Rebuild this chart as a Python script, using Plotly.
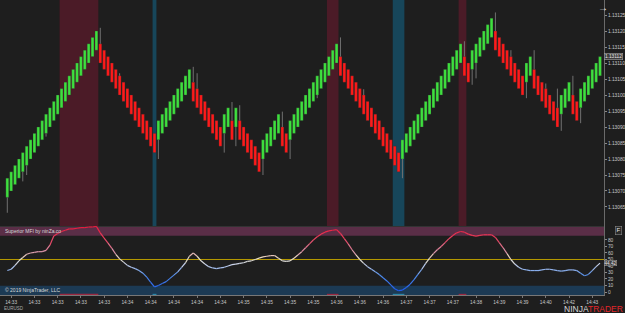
import plotly.graph_objects as go

# ---------------- data ----------------
close = [
    1.13074, 1.13076, 1.13078, 1.13080, 1.13082, 1.13084, 1.13086, 1.13088, 1.13090, 1.13092, 1.13094, 1.13096,
    1.13098, 1.13100, 1.13102, 1.13104, 1.13106, 1.13108, 1.13110, 1.13112, 1.13114, 1.13116, 1.13118, 1.13120,
    1.13110, 1.13108, 1.13106, 1.13104, 1.13102, 1.13100, 1.13098, 1.13096, 1.13094, 1.13092, 1.13090, 1.13088,
    1.13086, 1.13084, 1.13082,
    1.13092, 1.13094, 1.13096, 1.13098, 1.13100, 1.13102, 1.13104, 1.13106, 1.13108,
    1.13098, 1.13096, 1.13094, 1.13092, 1.13090, 1.13088, 1.13086, 1.13084,
    1.13094, 1.13096, 1.13086, 1.13096,
    1.13086, 1.13084, 1.13082, 1.13080, 1.13078, 1.13076,
    1.13086, 1.13088, 1.13090, 1.13092, 1.13094,
    1.13084, 1.13082,
    1.13092, 1.13094, 1.13096, 1.13098, 1.13100, 1.13102, 1.13104, 1.13106, 1.13108, 1.13110, 1.13112, 1.13114,
    1.13116,
    1.13106, 1.13104, 1.13102, 1.13100, 1.13098, 1.13096, 1.13094, 1.13092, 1.13090, 1.13088, 1.13086, 1.13084,
    1.13082, 1.13080, 1.13078, 1.13076,
    1.13086, 1.13088, 1.13090, 1.13092, 1.13094, 1.13096, 1.13098, 1.13100, 1.13102, 1.13104, 1.13106, 1.13108,
    1.13110, 1.13112, 1.13114, 1.13116,
    1.13106, 1.13104,
    1.13114, 1.13116, 1.13118, 1.13120, 1.13122, 1.13124,
    1.13114, 1.13112, 1.13110, 1.13108, 1.13106, 1.13104, 1.13102, 1.13100,
    1.13110, 1.13112,
    1.13102, 1.13100, 1.13098, 1.13096, 1.13094, 1.13092, 1.13090,
    1.13100, 1.13102, 1.13104,
    1.13094, 1.13092,
    1.13102, 1.13104, 1.13106, 1.13108, 1.13110, 1.13112,
]
open_ = [
    1.13068, 1.13070, 1.13072, 1.13074, 1.13076, 1.13078, 1.13080, 1.13082, 1.13084, 1.13086, 1.13088, 1.13090,
    1.13092, 1.13094, 1.13096, 1.13098, 1.13100, 1.13102, 1.13104, 1.13106, 1.13108, 1.13110, 1.13112, 1.13114,
    1.13116, 1.13114, 1.13112, 1.13110, 1.13108, 1.13106, 1.13104, 1.13102, 1.13100, 1.13098, 1.13096, 1.13094,
    1.13092, 1.13090, 1.13088,
    1.13086, 1.13088, 1.13090, 1.13092, 1.13094, 1.13096, 1.13098, 1.13100, 1.13102,
    1.13104, 1.13102, 1.13100, 1.13098, 1.13096, 1.13094, 1.13092, 1.13090,
    1.13088, 1.13090, 1.13092, 1.13090,
    1.13092, 1.13090, 1.13088, 1.13086, 1.13084, 1.13082,
    1.13080, 1.13082, 1.13084, 1.13086, 1.13088,
    1.13090, 1.13088,
    1.13086, 1.13088, 1.13090, 1.13092, 1.13094, 1.13096, 1.13098, 1.13100, 1.13102, 1.13104, 1.13106, 1.13108,
    1.13110,
    1.13112, 1.13110, 1.13108, 1.13106, 1.13104, 1.13102, 1.13100, 1.13098, 1.13096, 1.13094, 1.13092, 1.13090,
    1.13088, 1.13086, 1.13084, 1.13082,
    1.13080, 1.13082, 1.13084, 1.13086, 1.13088, 1.13090, 1.13092, 1.13094, 1.13096, 1.13098, 1.13100, 1.13102,
    1.13104, 1.13106, 1.13108, 1.13110,
    1.13112, 1.13110,
    1.13108, 1.13110, 1.13112, 1.13114, 1.13116, 1.13118,
    1.13120, 1.13118, 1.13116, 1.13114, 1.13112, 1.13110, 1.13108, 1.13106,
    1.13104, 1.13106,
    1.13108, 1.13106, 1.13104, 1.13102, 1.13100, 1.13098, 1.13096,
    1.13094, 1.13096, 1.13098,
    1.13100, 1.13098,
    1.13096, 1.13098, 1.13100, 1.13102, 1.13104, 1.13106,
]
# wick extremes (bar index, price the wick reaches)
wick_bar = [0, 4, 5, 10, 24, 29, 39, 48, 49, 56, 58, 59, 60, 66, 71, 73, 80, 86, 92, 102,
            118, 120, 121, 126, 130, 134, 136, 139, 142, 143, 146, 148]
wick_end = [1.130632, 1.13073, 1.13075, 1.13087, 1.13121, 1.131068, 1.13080, 1.131088, 1.131068, 1.13082,
            1.130978, 1.13084, 1.130968, 1.13075, 1.130948, 1.13080, 1.13099, 1.13118, 1.131018, 1.13074,
            1.131168, 1.131032, 1.131052, 1.131258, 1.13114, 1.13099, 1.13114, 1.131036, 1.13102, 1.130888,
            1.13106, 1.130912]

mfi = [
    33, 35, 41, 48, 53, 58, 60, 61, 62, 62, 64, 72, 86, 90, 93, 95, 97, 97, 98, 99,
    99, 100, 100, 101, 91, 83, 75, 67, 58, 51, 46, 41, 38, 36, 33, 29, 23, 15, 8, 10,
    13, 16, 21, 26, 31, 38, 45, 55, 60, 55, 48, 43, 39, 37, 36, 37, 38, 40, 42, 43,
    44, 45, 47, 48, 50, 52, 54, 55, 56, 56, 52, 48, 47, 48, 52, 57, 62, 68, 74, 80,
    85, 89, 92, 94, 95, 96, 90, 82, 74, 65, 57, 50, 44, 39, 35, 31, 27, 22, 17, 11,
    5, 2, 3, 7, 12, 19, 27, 35, 44, 52, 59, 65, 70, 76, 82, 87, 91, 93, 92, 89,
    87, 86, 87, 88, 88, 88, 84, 76, 68, 59, 50, 43, 38, 35, 34, 33, 33, 33, 34, 35,
    35, 34, 33, 32, 33, 34, 34, 33, 29, 25, 27, 33, 39, 44.42,
]
mid_level = 50

tick_bars = [1, 7, 13, 19, 25, 31, 37, 43, 49, 55, 61, 67, 73, 79, 85, 91, 97, 103, 109, 115,
             121, 127, 133, 139, 145, 151]
tick_text = ["14:33", "14:33", "14:33", "14:33", "14:33", "14:34", "14:34", "14:34", "14:34", "14:34",
             "14:35", "14:35", "14:35", "14:35", "14:36", "14:36", "14:36", "14:37", "14:37", "14:37",
             "14:38", "14:39", "14:39", "14:40", "14:42", "14:43"]

hot_start = [14, 83, 117]
hot_end = [23, 85, 118]
cold_start = [38, 100]
cold_end = [38, 102]

price_ticks = [1.13065, 1.13070, 1.13075, 1.13080, 1.13085, 1.13090, 1.13095, 1.13100,
               1.13105, 1.13110, 1.13115, 1.13120, 1.13125]
mfi_ticks = [0, 10, 20, 30, 40, 50, 60, 70, 80]
last_price = 1.13112
last_mfi = 44.42

# ---------------- style ----------------
BG = "#1e1e1e"
GREEN = "#3ee03e"
RED = "#ff1a1a"
FONT = "Liberation Sans"
XR = [-1.884, 154.03]
TOP_RANGE = [1.1305906, 1.1312969]
BOT_RANGE = [-4.6, 101.5]
SPLIT = 0.2339

n = len(close)
xs = list(range(n))
body_top = [max(o, c) for o, c in zip(open_, close)]
body_bot = [min(o, c) for o, c in zip(open_, close)]

fig = go.Figure()

# wicks: only the parts that stick out of the bodies
wx, wy = [], []
for b, w in zip(wick_bar, wick_end):
    if w > body_top[b]:
        wx += [b, b, None]
        wy += [body_top[b], w, None]
    elif w < body_bot[b]:
        wx += [b, b, None]
        wy += [w, body_bot[b], None]
fig.add_trace(go.Scatter(x=wx, y=wy, mode="lines", line=dict(color="#707070", width=1),
                         xaxis="x", yaxis="y", hoverinfo="skip"))

# bodies (a hairline outline makes plotly snap the bars to whole pixels)
colors = [GREEN if c > o else RED for o, c in zip(open_, close)]
fig.add_trace(go.Bar(x=xs, y=[c - o for o, c in zip(open_, close)], base=open_, width=0.74,
                     marker=dict(color=colors, line=dict(color="#2e2e2e", width=0.3)),
                     xaxis="x", yaxis="y"))

# mid level line of the oscillator
fig.add_trace(go.Scatter(x=XR, y=[mid_level, mid_level], mode="lines",
                         line=dict(color="#b89a00", width=1), xaxis="x2", yaxis="y2", hoverinfo="skip"))

# MFI gradient line
stops = [(0, (25, 85, 240)), (25, (80, 140, 235)), (42, (200, 210, 235)), (52, (235, 225, 195)),
         (62, (220, 150, 172)), (80, (228, 70, 100)), (101, (235, 25, 60))]


def cmap(v):
    for (a, ca), (b, cb) in zip(stops[:-1], stops[1:]):
        if v <= b:
            t = max(0.0, (v - a) / (b - a))
            return "rgb(%d,%d,%d)" % tuple(round(ca[k] + (cb[k] - ca[k]) * t) for k in range(3))
    return "rgb(%d,%d,%d)" % stops[-1][1]


for i in range(n - 1):
    fig.add_trace(go.Scatter(x=[i, i + 1], y=[mfi[i], mfi[i + 1]], mode="lines",
                             line=dict(color=cmap((mfi[i] + mfi[i + 1]) / 2), width=1.2),
                             xaxis="x2", yaxis="y2", hoverinfo="skip"))

shapes = []
for s, e in zip(hot_start, hot_end):
    shapes.append(dict(type="rect", xref="x", yref="y domain", x0=s - 0.5, x1=e + 0.5, y0=0, y1=1,
                       fillcolor="#4b1b27", line=dict(width=0), layer="below"))
    shapes.append(dict(type="rect", xref="x2", yref="y2", x0=s - 0.5, x1=e + 0.5, y0=-4.6, y1=-2.8,
                       fillcolor="#9a2840", line=dict(width=0), layer="above"))
for s, e in zip(cold_start, cold_end):
    shapes.append(dict(type="rect", xref="x", yref="y domain", x0=s - 0.5, x1=e + 0.5, y0=0, y1=1,
                       fillcolor="#17465a", line=dict(width=0), layer="below"))
    shapes.append(dict(type="rect", xref="x2", yref="y2", x0=s - 0.5, x1=e + 0.5, y0=-4.6, y1=-2.8,
                       fillcolor="#2a86a8", line=dict(width=0), layer="above"))
# indicator zones
shapes.append(dict(type="rect", xref="x2 domain", yref="y2", x0=0, x1=1, y0=86.5, y1=100,
                   fillcolor="#5a2e47", line=dict(width=0), layer="below"))
shapes.append(dict(type="rect", xref="x2 domain", yref="y2", x0=0, x1=1, y0=-4.6, y1=9.6,
                   fillcolor="#1c3a54", line=dict(width=0), layer="below"))

ann = [
    dict(text="Superior MFI by ninZa.co", xref="paper", yref="paper", x=0.005, y=0.217,
         xanchor="left", yanchor="middle", showarrow=False, font=dict(size=5, color="#d8d8d8", family=FONT)),
    dict(text="© 2019 NinjaTrader, LLC", xref="paper", yref="paper", x=0.005, y=0.017,
         xanchor="left", yanchor="middle", showarrow=False, font=dict(size=5, color="#d8d8d8", family=FONT)),
    dict(text="EURUSD", xref="paper", yref="paper", x=0.003, y=-0.047,
         xanchor="left", yanchor="middle", showarrow=False, font=dict(size=4.5, color="#aaaaaa", family=FONT)),
    dict(text="<span style='color:#d8d8d8'>NINJA</span><span style='color:#e3262b'>TRADER</span>",
         xref="paper", yref="paper", x=1.0348, y=-0.047, xanchor="right", yanchor="middle",
         showarrow=False, font=dict(size=8.5, family=FONT)),
    dict(text="→", xref="paper", yref="paper", x=0.9985, y=0.973, xanchor="center", yanchor="middle",
         showarrow=False, font=dict(size=10, color="#e8e8e8", family=FONT)),
    dict(text="F", xref="paper", yref="paper", x=1.024, y=0.217, xanchor="center", yanchor="middle",
         showarrow=False, font=dict(size=6, color="#e8e8e8", family=FONT),
         bgcolor="#2a2a2a", bordercolor="#888888", borderwidth=0.6, borderpad=0.8),
    dict(text="%.5f" % last_price, xref="paper", yref="y", x=1.0, y=last_price, xanchor="left",
         yanchor="middle", showarrow=False, font=dict(size=4.8, color="#e6e6e6", family=FONT),
         bgcolor="#3e3e3e", bordercolor="#a0a0a0", borderwidth=0.6, borderpad=0.3),
    dict(text="%.2f" % last_mfi, xref="paper", yref="y2", x=1.0, y=last_mfi, xanchor="left",
         yanchor="middle", showarrow=False, font=dict(size=4.6, color="#e6e6e6", family=FONT),
         bgcolor="#3e3e3e", bordercolor="#a0a0a0", borderwidth=0.5, borderpad=0),
]

axfont = dict(size=4.8, color="#c8c8c8", family=FONT)
fig.update_layout(
    width=625, height=313, margin=dict(l=0, r=21, t=0, b=18),
    paper_bgcolor=BG, plot_bgcolor=BG, showlegend=False, barmode="overlay",
    shapes=shapes, annotations=ann,
    xaxis=dict(domain=[0, 1], range=XR, anchor="y", showticklabels=False, showgrid=False,
               zeroline=False, ticks="", showline=True, linecolor="#333333", linewidth=1),
    yaxis=dict(domain=[SPLIT, 1], range=TOP_RANGE, side="right", anchor="x", tickvals=price_ticks,
               ticktext=["%.5f" % v for v in price_ticks], tickfont=axfont, ticks="outside", ticklen=2,
               tickcolor="#888888", showgrid=False, zeroline=False, showline=True, linecolor="#6a6a6a",
               linewidth=1),
    xaxis2=dict(domain=[0, 1], range=XR, anchor="y2", tickvals=tick_bars, ticktext=tick_text,
                tickfont=axfont, ticks="outside", ticklen=2, tickcolor="#777777", showgrid=False,
                zeroline=False, showline=True, linecolor="#777777", linewidth=1),
    yaxis2=dict(domain=[0, SPLIT], range=BOT_RANGE, side="right", anchor="x2", tickvals=mfi_ticks,
                tickfont=axfont, ticks="outside", ticklen=2, tickcolor="#888888", showgrid=False,
                zeroline=False, showline=True, linecolor="#6a6a6a", linewidth=1),
)

fig.write_html("out.html")
